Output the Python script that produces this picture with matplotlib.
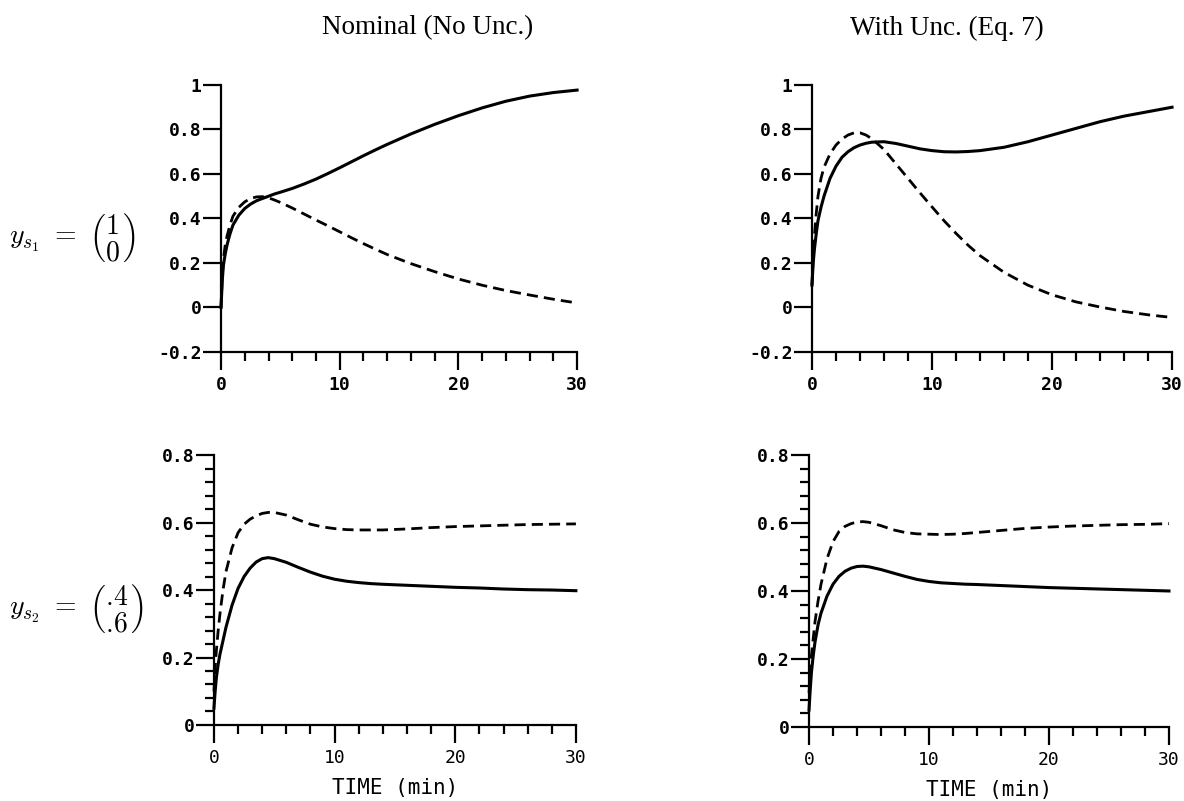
"""
Step responses: nominal vs. with uncertainty, for two setpoints
"""
import matplotlib
matplotlib.use("Agg")
import matplotlib.pyplot as plt
from matplotlib.ticker import MultipleLocator

# time axis (min)
t = [0, 0.1, 0.2, 0.35, 0.5, 0.75, 1, 1.5, 2, 2.5, 3, 3.5, 4, 4.5, 5, 6, 7, 8, 9, 10,
     11, 12, 13, 14, 16, 18, 20, 22, 24, 26, 28, 30]

# setpoint 1 = (1, 0), nominal
nom1_solid = [0.0, 0.12, 0.19, 0.24, 0.28, 0.33, 0.37, 0.415, 0.445, 0.465, 0.48, 0.49, 0.5,
              0.51, 0.518, 0.535, 0.555, 0.577, 0.602, 0.628, 0.655, 0.682, 0.708, 0.733,
              0.78, 0.823, 0.862, 0.897, 0.927, 0.95, 0.966, 0.977]
nom1_dash = [0.0, 0.14, 0.22, 0.28, 0.32, 0.37, 0.41, 0.45, 0.475, 0.49, 0.497, 0.498, 0.493,
             0.483, 0.472, 0.447, 0.42, 0.393, 0.367, 0.34, 0.313, 0.287, 0.262, 0.238,
             0.197, 0.161, 0.128, 0.1, 0.076, 0.056, 0.037, 0.02]
# setpoint 1, with uncertainty
unc1_solid = [0.1, 0.2, 0.26, 0.33, 0.39, 0.45, 0.5, 0.58, 0.635, 0.675, 0.7, 0.718, 0.73,
              0.738, 0.743, 0.745, 0.737, 0.725, 0.713, 0.705, 0.7, 0.699, 0.701, 0.705,
              0.72, 0.745, 0.775, 0.805, 0.835, 0.86, 0.88, 0.9]
unc1_dash = [0.1, 0.24, 0.32, 0.42, 0.5, 0.58, 0.63, 0.69, 0.73, 0.757, 0.775, 0.785, 0.785,
             0.775, 0.758, 0.71, 0.645, 0.58, 0.515, 0.452, 0.39, 0.333, 0.28, 0.233,
             0.158, 0.1, 0.057, 0.025, 0.002, -0.018, -0.033, -0.045]

# setpoint 2 = (.4, .6), nominal
nom2_solid = [0.05, 0.1, 0.14, 0.18, 0.21, 0.25, 0.29, 0.355, 0.405, 0.44, 0.465, 0.483, 0.493,
              0.496, 0.493, 0.482, 0.467, 0.453, 0.441, 0.432, 0.426, 0.422, 0.419, 0.417,
              0.414, 0.411, 0.408, 0.406, 0.403, 0.401, 0.4, 0.398]
nom2_dash = [0.1, 0.17, 0.22, 0.28, 0.33, 0.4, 0.455, 0.525, 0.57, 0.595, 0.61, 0.62, 0.627,
             0.63, 0.63, 0.622, 0.608, 0.595, 0.587, 0.582, 0.579, 0.578, 0.578, 0.578,
             0.581, 0.585, 0.588, 0.59, 0.592, 0.594, 0.595, 0.596]
# setpoint 2, with uncertainty
unc2_solid = [0.05, 0.11, 0.16, 0.21, 0.25, 0.3, 0.335, 0.385, 0.42, 0.443, 0.458, 0.467, 0.472,
              0.473, 0.471, 0.463, 0.453, 0.443, 0.434, 0.428, 0.424, 0.422, 0.42, 0.419,
              0.416, 0.413, 0.41, 0.408, 0.406, 0.404, 0.402, 0.4]
unc2_dash = [0.1, 0.16, 0.21, 0.26, 0.31, 0.37, 0.42, 0.495, 0.545, 0.575, 0.59, 0.598, 0.603,
             0.604, 0.602, 0.592, 0.58, 0.572, 0.568, 0.567, 0.566, 0.567, 0.569, 0.572,
             0.578, 0.584, 0.588, 0.591, 0.593, 0.595, 0.596, 0.598]

col_titles = ["Nominal (No Unc.)", "With Unc. (Eq. 7)"]
row_labels = [r"$y_{s_1}\ =\ \genfrac{(}{)}{0}{0}{1}{0}$",
              r"$y_{s_2}\ =\ \genfrac{(}{)}{0}{0}{.\!4}{.\!6}$"]
top_yticks = [-0.2, 0, 0.2, 0.4, 0.6, 0.8, 1]
top_ylabels = ["-0.2", "0", "0.2", "0.4", "0.6", "0.8", "1"]
bot_yticks = [0, 0.2, 0.4, 0.6, 0.8]
bot_ylabels = ["0", "0.2", "0.4", "0.6", "0.8"]
xticks = [0, 10, 20, 30]
xlabel = "TIME (min)"

plt.rcParams["mathtext.fontset"] = "cm"
mono = "DejaVu Sans Mono"

fig = plt.figure(figsize=(11.84, 8.01), dpi=100)

# 坐标轴位置 (figure fraction)
positions = {
    (0, 0): [0.1867, 0.5606, 0.3007, 0.3333],
    (0, 1): [0.6858, 0.5606, 0.3041, 0.3333],
    (1, 0): [0.1807, 0.0949, 0.3057, 0.3370],
    (1, 1): [0.6833, 0.0924, 0.3040, 0.3396],
}
curves = {
    (0, 0): (nom1_solid, nom1_dash),
    (0, 1): (unc1_solid, unc1_dash),
    (1, 0): (nom2_solid, nom2_dash),
    (1, 1): (unc2_solid, unc2_dash),
}

for (r, c), pos in positions.items():
    ax = fig.add_axes(pos)
    solid, dash = curves[(r, c)]
    ax.plot(t, solid, color="black", lw=2.2, clip_on=False)
    ax.plot(t, dash, color="black", lw=2.0, dashes=(4, 2.2), clip_on=False)

    ax.set_xlim(0, 30)
    ax.set_xticks(xticks)
    ax.xaxis.set_minor_locator(MultipleLocator(2))
    if r == 0:
        ax.set_ylim(-0.2, 1)
        ax.set_yticks(top_yticks)
        ax.set_yticklabels(top_ylabels, family=mono, fontweight="bold", fontsize=13)
        ax.set_xticklabels([str(x) for x in xticks], family=mono, fontweight="bold", fontsize=13)
    else:
        ax.set_ylim(0, 0.8)
        ax.set_yticks(bot_yticks)
        ax.yaxis.set_minor_locator(MultipleLocator(0.04))
        ax.set_yticklabels(bot_ylabels, family=mono, fontweight="bold", fontsize=13)
        ax.set_xticklabels([str(x) for x in xticks], family=mono, fontsize=13)
        ax.set_xlabel(xlabel, family=mono, fontsize=15, labelpad=8)

    for side in ["top", "right"]:
        ax.spines[side].set_visible(False)
    for side in ["left", "bottom"]:
        ax.spines[side].set_linewidth(1.6)
    ax.tick_params(which="major", direction="out", length=13, width=1.6, pad=1)
    ax.tick_params(which="minor", direction="out", length=6.5, width=1.6)
    ax.tick_params(axis="x", which="major", pad=4)

# 列标题
fig.text(0.361, 0.965, col_titles[0], family="Liberation Serif", fontsize=19.5,
         ha="center", va="center")
fig.text(0.800, 0.965, col_titles[1], family="Liberation Serif", fontsize=19.5,
         ha="center", va="center")

# 行标签
fig.text(0.008, 0.703, row_labels[0], fontsize=20, ha="left", va="center")
fig.text(0.008, 0.240, row_labels[1], fontsize=20, ha="left", va="center")

fig.savefig("out.png", dpi=100, facecolor="white")
